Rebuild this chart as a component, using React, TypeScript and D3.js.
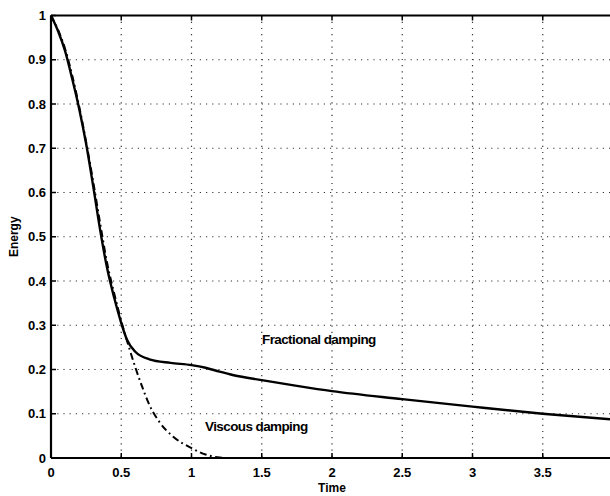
import React from "react";
import * as d3 from "d3";

const fracT = [0, 0.05, 0.1, 0.15, 0.2, 0.25, 0.3, 0.35, 0.4, 0.45, 0.5, 0.54, 0.6, 0.7, 0.85, 1.0, 1.1, 1.2, 1.3, 1.5, 1.75, 2, 2.5, 3, 3.5, 4];
const fracE = [1, 0.965, 0.92, 0.858, 0.79, 0.71, 0.615, 0.515, 0.428, 0.362, 0.305, 0.268, 0.24, 0.223, 0.215, 0.21, 0.204, 0.195, 0.187, 0.176, 0.163, 0.151, 0.133, 0.116, 0.1, 0.087];

const viscT = [0, 0.1, 0.2, 0.3, 0.35, 0.4, 0.45, 0.5, 0.56, 0.6, 0.65, 0.7, 0.775, 0.87, 0.99, 1.1, 1.2, 1.25];
const viscE = [1, 0.925, 0.795, 0.625, 0.53, 0.44, 0.372, 0.31, 0.245, 0.205, 0.16, 0.12, 0.08, 0.048, 0.024, 0.008, 0.001, 0];

const xTicks = [0, 0.5, 1, 1.5, 2, 2.5, 3, 3.5];
const xTickLabels = ["0", "0.5", "1", "1.5", "2", "2.5", "3", "3.5"];
const yTicks = [0, 0.1, 0.2, 0.3, 0.4, 0.5, 0.6, 0.7, 0.8, 0.9, 1];
const yTickLabels = ["0", "0.1", "0.2", "0.3", "0.4", "0.5", "0.6", "0.7", "0.8", "0.9", "1"];

const W = 610;
const H = 496;
const left = 51;
const right = 613;
const top = 15.5;
const bottom = 458;

export default function App() {
  const x = d3.scaleLinear().domain([0, 4]).range([left, right]);
  const y = d3.scaleLinear().domain([0, 1]).range([bottom, top]);
  const line = d3
    .line<[number, number]>()
    .x((d) => x(d[0]))
    .y((d) => y(d[1]))
    .curve(d3.curveMonotoneX);
  const frac = fracT.map((t, i) => [t, fracE[i]] as [number, number]);
  const visc = viscT.map((t, i) => [t, viscE[i]] as [number, number]);
  const font = "'Liberation Sans', Arial, sans-serif";
  return (
    <svg
      width={W}
      height={H}
      style={{ position: "absolute", left: 0, top: 0, background: "#fff" }}
      fontFamily={font}
    >
      <rect x={0} y={0} width={W} height={H} fill="#fff" />
      {xTicks.slice(1).map((t) => (
        <line key={"gx" + t} x1={x(t)} x2={x(t)} y1={top} y2={bottom} stroke="#333" strokeWidth={1.2} strokeDasharray="1.2,5" />
      ))}
      {yTicks.slice(1, -1).map((t) => (
        <line key={"gy" + t} x1={left} x2={right} y1={y(t)} y2={y(t)} stroke="#333" strokeWidth={1.2} strokeDasharray="1.2,5" />
      ))}
      {xTicks.map((t) => (
        <g key={"tx" + t}>
          <line x1={x(t)} x2={x(t)} y1={bottom} y2={bottom - 5} stroke="#000" strokeWidth={1.5} />
          <line x1={x(t)} x2={x(t)} y1={top} y2={top + 5} stroke="#000" strokeWidth={1.5} />
        </g>
      ))}
      {yTicks.map((t) => (
        <line key={"ty" + t} x1={left} x2={left + 5} y1={y(t)} y2={y(t)} stroke="#000" strokeWidth={1.5} />
      ))}
      <path d={line(visc) || ""} fill="none" stroke="#000" strokeWidth={2} strokeDasharray="7,3.5,1.8,3.5" />
      <path d={line(frac) || ""} fill="none" stroke="#000" strokeWidth={2.4} />
      <line x1={left} x2={right} y1={bottom} y2={bottom} stroke="#000" strokeWidth={2.2} />
      <line x1={left} x2={right} y1={top} y2={top} stroke="#000" strokeWidth={2.2} />
      <line x1={left} x2={left} y1={top} y2={bottom} stroke="#000" strokeWidth={2.2} />
      {xTicks.map((t, i) => (
        <text key={"lx" + t} x={x(t)} y={477} textAnchor="middle" fontSize={13} fontWeight="bold">
          {xTickLabels[i]}
        </text>
      ))}
      {yTicks.map((t, i) => (
        <text key={"ly" + t} x={46} y={y(t) + 4.5} textAnchor="end" fontSize={13} fontWeight="bold">
          {yTickLabels[i]}
        </text>
      ))}
      <text x={x(2)} y={492} textAnchor="middle" fontSize={12} fontWeight="bold">
        Time
      </text>
      <text transform={`translate(18,${y(0.5)}) rotate(-90)`} textAnchor="middle" fontSize={12} fontWeight="bold">
        Energy
      </text>
      <text x={262} y={344} fontSize={13.5} fontWeight="bold" letterSpacing={-0.6}>
        Fractional damping
      </text>
      <text x={205} y={431} fontSize={13.5} fontWeight="bold" letterSpacing={-0.6}>
        Viscous damping
      </text>
    </svg>
  );
}
